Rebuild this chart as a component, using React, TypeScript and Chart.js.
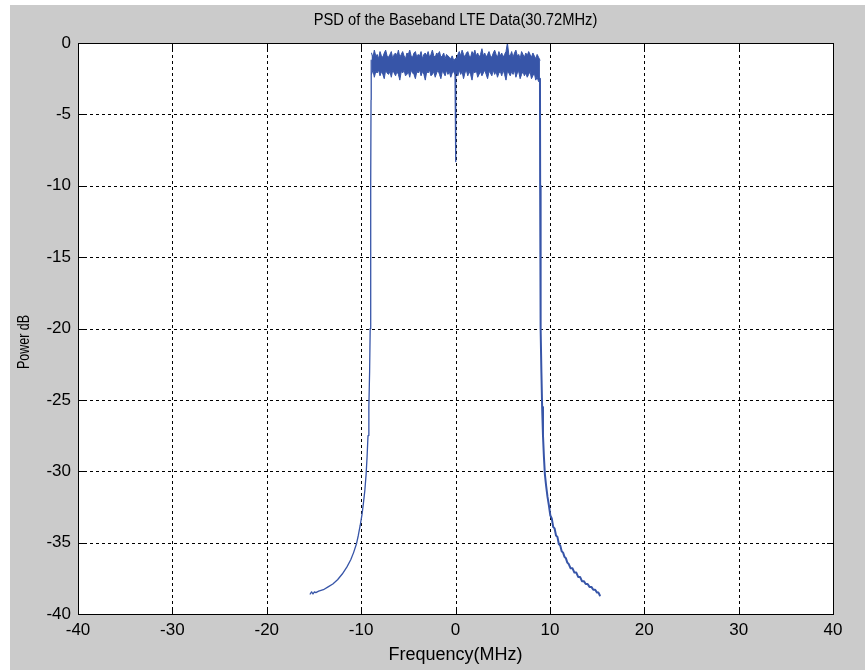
import React, { useEffect, useRef } from "react";
import { Chart, registerables } from "chart.js";

Chart.register(...registerables);

const TITLE = "PSD of the Baseband LTE Data(30.72MHz)";
const X_LABEL = "Frequency(MHz)";
const Y_LABEL = "Power dB";

const X_TICKS = [-40, -30, -20, -10, 0, 10, 20, 30, 40];
const Y_TICKS = [0, -5, -10, -15, -20, -25, -30, -35, -40];

const leftSkirtFreq = [
  -15.4, -15.25, -15.1, -14.95, -14.8, -14.5, -14.0, -13.5, -13.0, -12.5,
  -12.0, -11.5, -11.1, -10.8, -10.5, -10.3, -10.1, -9.9, -9.75, -9.6,
  -9.47, -9.37, -9.27, -9.18, -9.1, -9.04, -9.0, -8.97, -8.95, -8.93,
];
const leftSkirtPower = [
  -38.6, -38.45, -38.6, -38.45, -38.5, -38.4, -38.3, -38.1, -37.9, -37.6,
  -37.2, -36.7, -36.2, -35.7, -35.1, -34.5, -33.8, -33.0, -32.2, -31.3,
  -30.2, -29.0, -27.5, -25.5, -23.0, -20.0, -16.0, -10.0, -4.0, -1.2,
];

const bandFreq = [
  -8.9, -8.75, -8.6, -8.45, -8.3, -8.15, -8.0, -7.85, -7.7, -7.55,
  -7.4, -7.25, -7.1, -6.95, -6.8, -6.65, -6.5, -6.35, -6.2, -6.05,
  -5.9, -5.75, -5.6, -5.45, -5.3, -5.15, -5.0, -4.85, -4.7, -4.55,
  -4.4, -4.25, -4.1, -3.95, -3.8, -3.65, -3.5, -3.35, -3.2, -3.05,
  -2.9, -2.75, -2.6, -2.45, -2.3, -2.15, -2.0, -1.85, -1.7, -1.55,
  -1.4, -1.25, -1.1, -0.95, -0.8, -0.65, -0.5, -0.35, -0.2, -0.05,
  0.1, 0.25, 0.4, 0.55, 0.7, 0.85, 1.0, 1.15, 1.3, 1.45,
  1.6, 1.75, 1.9, 2.05, 2.2, 2.35, 2.5, 2.65, 2.8, 2.95,
  3.1, 3.25, 3.4, 3.55, 3.7, 3.85, 4.0, 4.15, 4.3, 4.45,
  4.6, 4.75, 4.9, 5.05, 5.2, 5.35, 5.5, 5.65, 5.8, 5.95,
  6.1, 6.25, 6.4, 6.55, 6.7, 6.85, 7.0, 7.15, 7.3, 7.45,
  7.6, 7.75, 7.9, 8.05, 8.2, 8.35, 8.5, 8.65, 8.8, 8.95,
];
const bandUpper = [
  -0.7, -1.0, -0.5, -0.9, -0.8, -1.1, -0.6, -0.9, -1.0, -0.7,
  -0.5, -0.9, -1.0, -0.8, -0.6, -1.1, -0.8, -0.7, -0.9, -0.5,
  -1.0, -0.8, -0.6, -0.9, -1.1, -0.7, -0.8, -0.5, -0.9, -1.0,
  -0.7, -0.6, -1.0, -0.8, -0.9, -0.6, -1.1, -0.8, -0.7, -0.9,
  -0.6, -1.0, -0.8, -0.5, -0.9, -1.0, -0.7, -0.8, -0.6, -1.0,
  -0.9, -0.7, -1.1, -0.8, -0.9, -1.0, -1.1, -0.9, -1.2, -1.1,
  -1.1, -0.8, -0.6, -0.9, -0.5, -0.8, -1.0, -0.7, -0.6, -0.9,
  -1.0, -0.6, -0.8, -0.5, -0.9, -0.7, -1.0, -0.8, -0.4, -0.9,
  -0.7, -1.0, -0.8, -0.6, -0.9, -1.0, -0.7, -0.5, -0.8, -1.0,
  -0.6, -0.9, -0.7, -1.0, -0.8, -0.6, 0.0, -0.8, -0.9, -0.6,
  -1.0, -0.7, -0.5, -0.9, -0.8, -1.1, -0.6, -0.8, -1.0, -0.7,
  -0.9, -0.6, -0.8, -1.0, -0.7, -0.9, -1.1, -0.8, -1.0, -1.2,
];
const bandLower = [
  -2.2, -1.9, -2.4, -2.0, -2.1, -1.9, -2.3, -2.0, -2.2, -2.5,
  -1.9, -2.1, -2.2, -2.0, -2.4, -1.9, -2.1, -2.3, -2.0, -2.2,
  -2.6, -2.0, -2.1, -1.9, -2.3, -2.2, -2.0, -2.4, -1.9, -2.1,
  -2.2, -2.5, -2.0, -2.1, -1.9, -2.3, -2.0, -2.2, -2.6, -2.0,
  -2.1, -1.9, -2.3, -2.2, -2.0, -2.4, -2.1, -1.9, -2.2, -2.5,
  -2.0, -2.1, -2.3, -1.9, -2.2, -2.0, -2.4, -2.1, -2.0, -2.2,
  -2.1, -2.3, -1.9, -2.2, -2.0, -2.5, -2.1, -1.9, -2.3, -2.0,
  -2.2, -2.6, -2.0, -2.1, -1.9, -2.4, -2.2, -2.0, -2.3, -2.1,
  -1.9, -2.2, -2.5, -2.0, -2.1, -2.3, -1.9, -2.2, -2.0, -2.4,
  -2.1, -2.0, -2.3, -1.9, -2.2, -2.6, -2.0, -2.1, -2.3, -2.0,
  -2.2, -1.9, -2.4, -2.1, -2.0, -2.5, -2.2, -2.0, -2.3, -2.1,
  -2.4, -2.2, -2.0, -2.5, -2.3, -2.1, -2.6, -2.4, -2.7, -2.8,
];

const notchFreq = [-0.05, 0.0, 0.05];
const notchPower = [-1.8, -8.3, -1.8];

const rightSkirtFreq = [
  8.95, 8.97, 9.0, 9.04, 9.1, 9.18, 9.27, 9.37, 9.47, 9.6,
  9.75, 9.9, 10.05, 10.2, 10.35, 10.5, 10.65, 10.8, 10.95, 11.1,
  11.25, 11.4, 11.55, 11.7, 11.85, 12.0, 12.2, 12.4, 12.6, 12.8,
  13.0, 13.2, 13.4, 13.6, 13.8, 14.0, 14.2, 14.4, 14.6, 14.8,
  15.0, 15.15, 15.3,
];
const rightSkirtPower = [
  -2.5, -10.0, -16.0, -20.0, -23.0, -25.5, -27.5, -29.0, -30.2, -31.0,
  -31.8, -32.4, -33.1, -33.3, -33.9, -34.0, -34.5, -34.6, -35.1, -35.2,
  -35.6, -35.7, -36.0, -36.1, -36.4, -36.5, -36.8, -36.8, -37.1, -37.1,
  -37.4, -37.4, -37.7, -37.7, -37.9, -37.9, -38.1, -38.1, -38.3, -38.3,
  -38.5, -38.5, -38.7,
];

const FONT = '"Liberation Sans", Arial, Helvetica, sans-serif';
const LINE_COLOR = "rgb(55, 85, 168)";

const pairs = (xs: number[], ys: number[]) => xs.map((x, i) => ({ x, y: ys[i] }));

function drawText(ctx: CanvasRenderingContext2D, text: string, x: number, y: number, size: number, sx: number, rot = 0) {
  ctx.save();
  ctx.translate(x, y);
  if (rot) ctx.rotate(rot);
  ctx.scale(sx, 1);
  ctx.font = `${size}px ${FONT}`;
  ctx.fillStyle = "#000";
  ctx.textAlign = "center";
  ctx.textBaseline = "middle";
  ctx.fillText(text, 0, 0);
  ctx.restore();
}

const matlabPlugin = {
  id: "matlabStyle",
  beforeDatasetsDraw(chart: any) {
    const { ctx, chartArea: a } = chart;
    const xs = chart.scales.x;
    const ys = chart.scales.y;
    ctx.save();
    ctx.fillStyle = "#ffffff";
    ctx.fillRect(a.left, a.top, a.right - a.left, a.bottom - a.top);
    ctx.strokeStyle = "#000000";
    ctx.lineWidth = 1;
    ctx.setLineDash([3, 3]);
    X_TICKS.forEach((v) => {
      if (v <= xs.min || v >= xs.max) return;
      const px = Math.round(xs.getPixelForValue(v)) + 0.5;
      ctx.beginPath();
      ctx.moveTo(px, a.top);
      ctx.lineTo(px, a.bottom);
      ctx.stroke();
    });
    Y_TICKS.forEach((v) => {
      if (v <= ys.min || v >= ys.max) return;
      const py = Math.round(ys.getPixelForValue(v)) + 0.5;
      ctx.beginPath();
      ctx.moveTo(a.left, py);
      ctx.lineTo(a.right, py);
      ctx.stroke();
    });
    ctx.restore();
  },
  afterDatasetsDraw(chart: any) {
    const { ctx, chartArea: a } = chart;
    const xs = chart.scales.x;
    const ys = chart.scales.y;
    const TL = 6;
    ctx.save();
    ctx.strokeStyle = "#000000";
    ctx.lineWidth = 1;
    ctx.setLineDash([]);
    X_TICKS.forEach((v) => {
      const px = Math.round(xs.getPixelForValue(v)) + 0.5;
      ctx.beginPath();
      ctx.moveTo(px, a.bottom);
      ctx.lineTo(px, a.bottom - TL);
      ctx.moveTo(px, a.top);
      ctx.lineTo(px, a.top + TL);
      ctx.stroke();
    });
    Y_TICKS.forEach((v) => {
      const py = Math.round(ys.getPixelForValue(v)) + 0.5;
      ctx.beginPath();
      ctx.moveTo(a.left, py);
      ctx.lineTo(a.left + TL, py);
      ctx.moveTo(a.right, py);
      ctx.lineTo(a.right - TL, py);
      ctx.stroke();
    });
    const l = Math.round(a.left) + 0.5;
    const r = Math.round(a.right) + 0.5;
    const t = Math.round(a.top) + 0.5;
    const b = Math.round(a.bottom) + 0.5;
    ctx.strokeRect(l, t, r - l, b - t);
    ctx.restore();
  },
  afterDraw(chart: any) {
    const { ctx, chartArea: a } = chart;
    const cx = (a.left + a.right) / 2;
    drawText(ctx, TITLE, cx, 16, 16, 0.92);
    drawText(ctx, X_LABEL, cx, 650, 18, 1.0);
    drawText(ctx, Y_LABEL, 15, 337, 16, 0.78, -Math.PI / 2);
  },
};

export default function App() {
  const canvasRef = useRef<HTMLCanvasElement | null>(null);

  useEffect(() => {
    const canvas = canvasRef.current;
    if (!canvas) return;
    const common = {
      pointRadius: 0,
      tension: 0,
      borderColor: LINE_COLOR,
      borderJoinStyle: "round" as const,
      borderCapStyle: "round" as const,
    };
    const chart = new Chart(canvas, {
      type: "line",
      data: {
        datasets: [
          { ...common, data: pairs(leftSkirtFreq, leftSkirtPower), borderWidth: 1.3, fill: false },
          {
            ...common,
            data: pairs(bandFreq, bandUpper),
            borderWidth: 1,
            backgroundColor: LINE_COLOR,
            fill: "+1",
          },
          { ...common, data: pairs(bandFreq, bandLower), borderWidth: 1, fill: false },
          { ...common, data: pairs(notchFreq, notchPower), borderWidth: 1.3, fill: false },
          { ...common, data: pairs(rightSkirtFreq, rightSkirtPower), borderWidth: 2, fill: false },
        ],
      },
      options: {
        animation: false,
        responsive: false,
        devicePixelRatio: 1,
        layout: { padding: { left: 0, top: 38, right: 32, bottom: 0 } },
        plugins: {
          legend: { display: false },
          title: { display: false },
          tooltip: { enabled: false },
        },
        scales: {
          x: {
            type: "linear",
            min: -40,
            max: 40,
            grid: { display: false, drawTicks: false },
            border: { display: false },
            ticks: {
              stepSize: 10,
              autoSkip: false,
              maxRotation: 0,
              padding: 6,
              color: "#000",
              font: { family: FONT, size: 17 },
            },
            afterFit: (scale: any) => {
              scale.height = 56;
            },
          },
          y: {
            type: "linear",
            min: -40,
            max: 0,
            grid: { display: false, drawTicks: false },
            border: { display: false },
            ticks: {
              stepSize: 5,
              autoSkip: false,
              padding: 7,
              color: "#000",
              font: { family: FONT, size: 17 },
            },
            afterFit: (scale: any) => {
              scale.width = 68;
            },
          },
        },
      },
      plugins: [matlabPlugin],
    });
    return () => chart.destroy();
  }, []);

  return (
    <div
      style={{
        position: "absolute",
        left: 10,
        top: 5,
        width: 855,
        height: 665,
        background: "#cbcbcb",
      }}
    >
      <canvas ref={canvasRef} width={855} height={665} style={{ display: "block" }} />
    </div>
  );
}
